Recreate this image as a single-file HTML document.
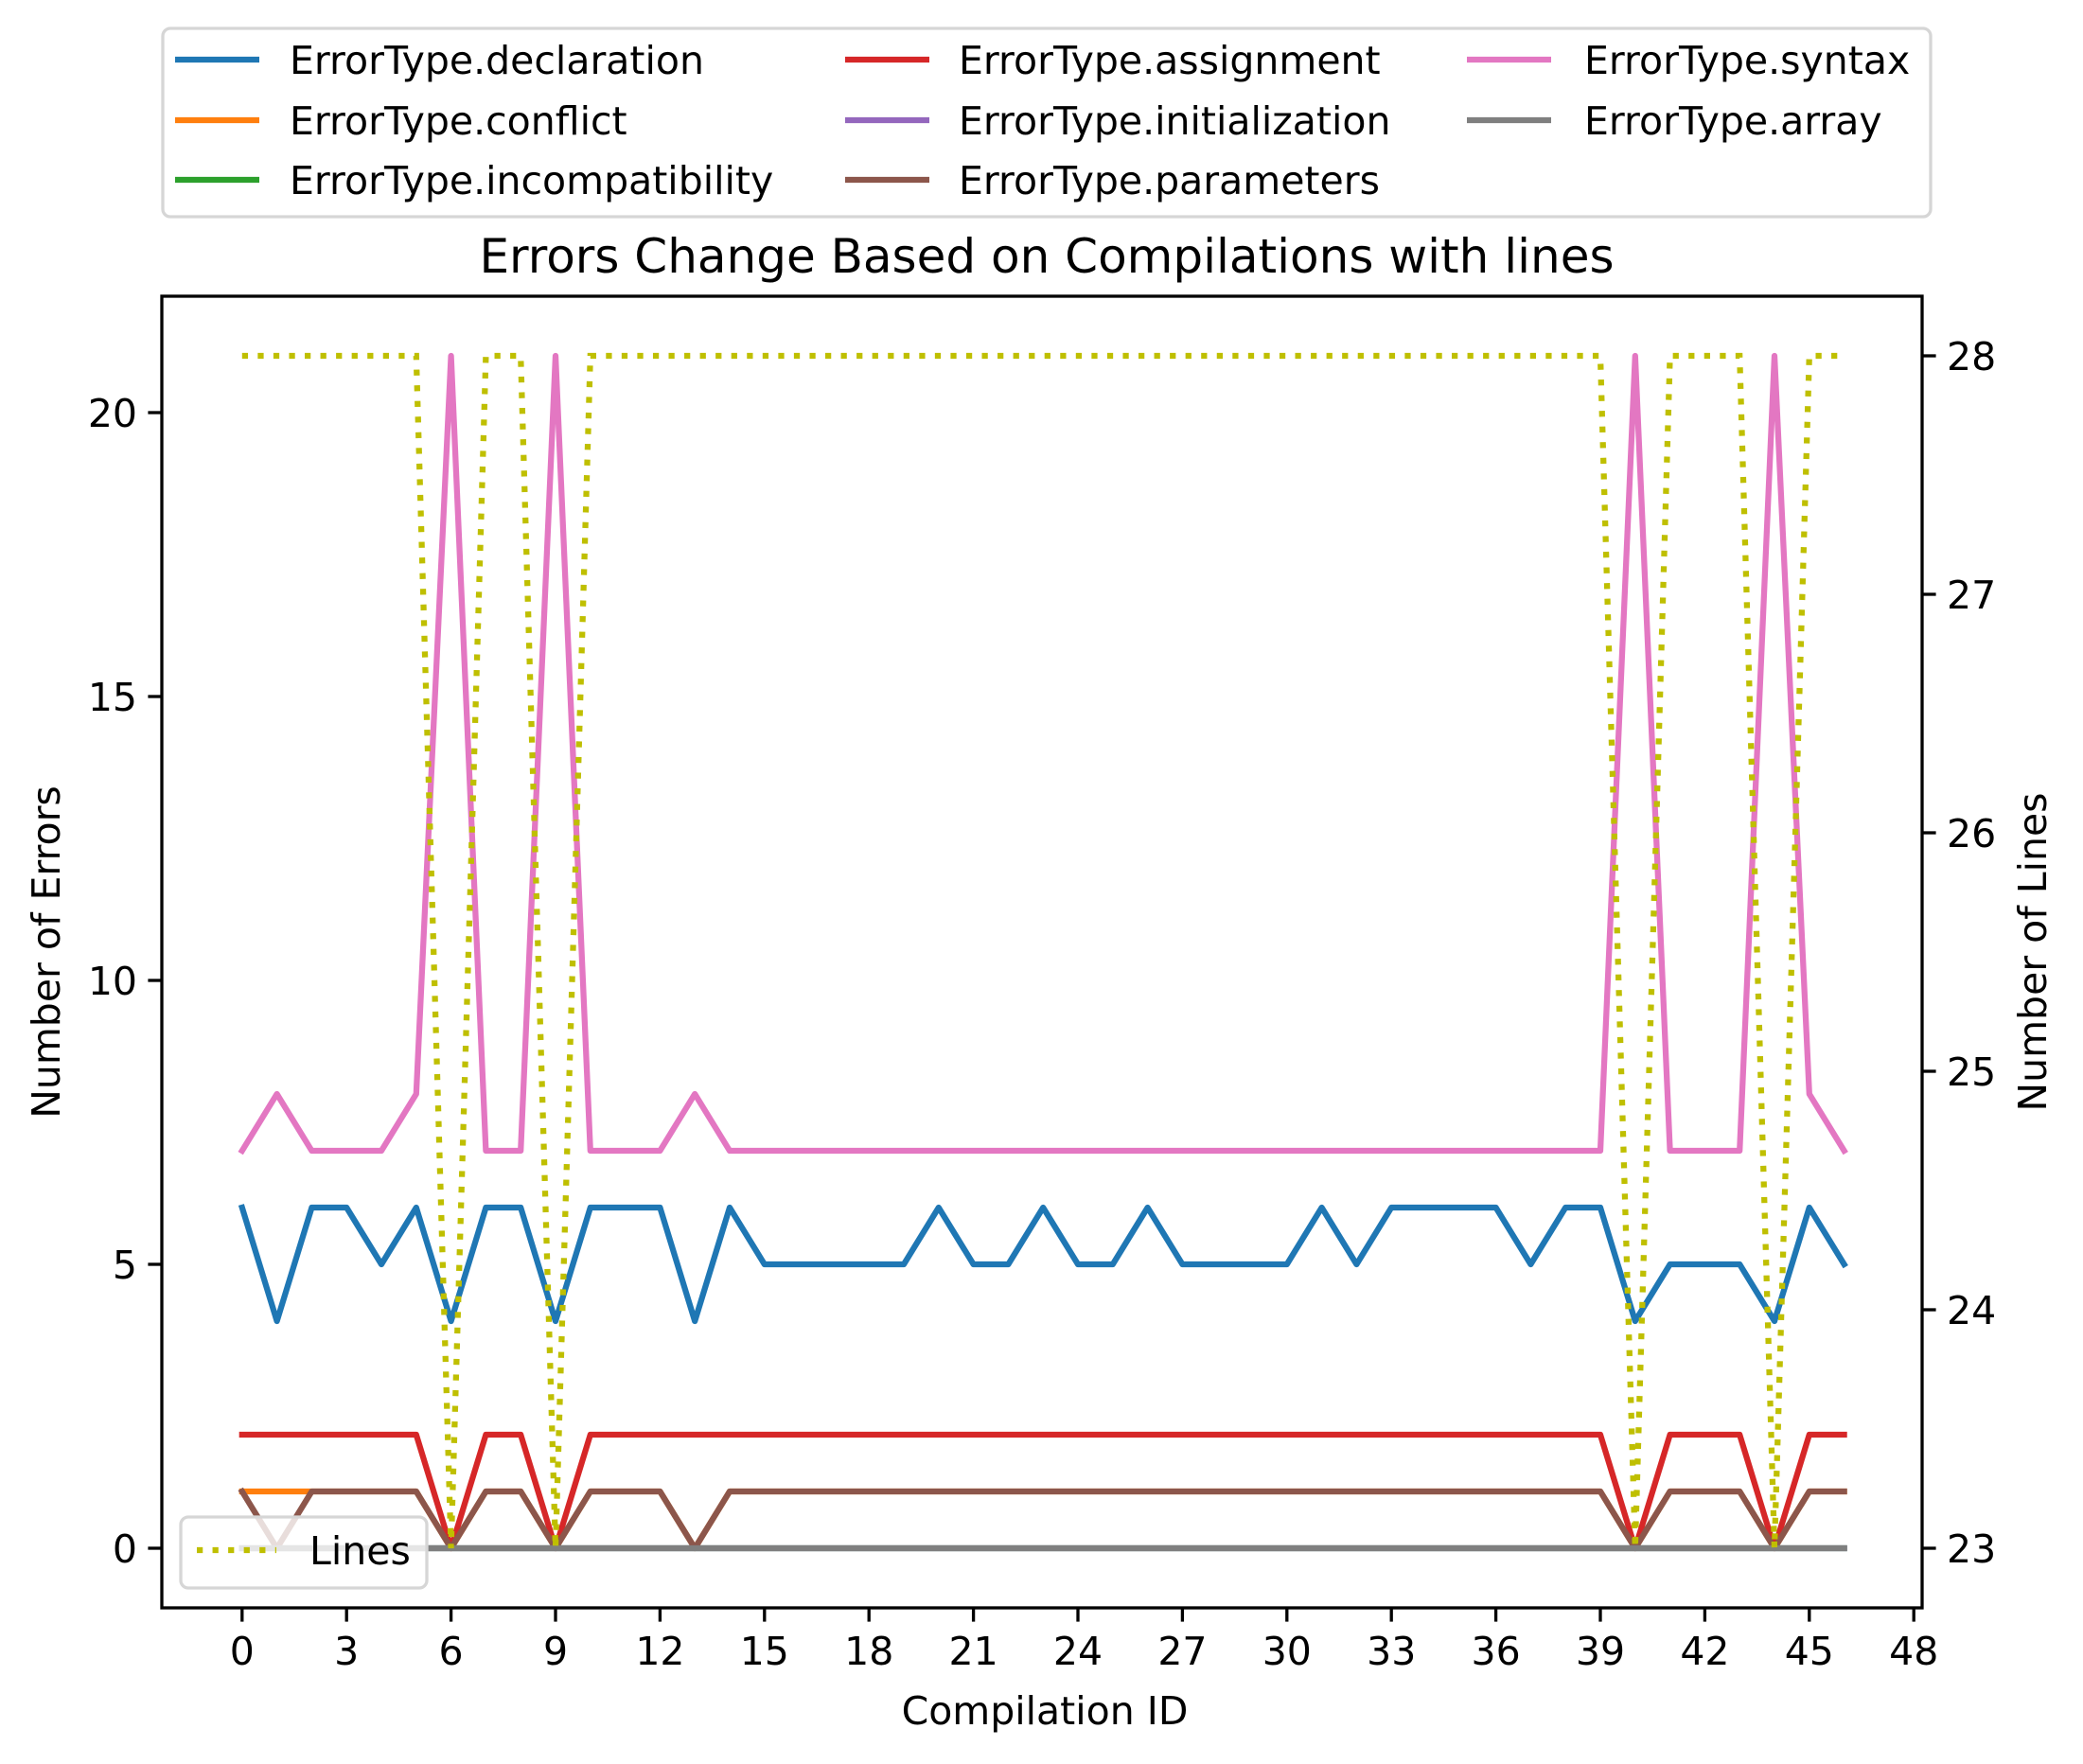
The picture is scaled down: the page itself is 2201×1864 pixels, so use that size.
<!DOCTYPE html>
<html><head><meta charset="utf-8"><style>
body{margin:0;background:#fff}
svg text{font-family:"DejaVu Sans","Liberation Sans",sans-serif;fill:#000}
</style></head><body>
<svg id="chart" width="2201" height="1859" viewBox="0 0 2201 1859" xmlns="http://www.w3.org/2000/svg">
<rect width="2201" height="1859" fill="#fff"/>
<g id="plot"></g>
</svg>
<script>
const compilationIds = Array.from({length:47},(_,i)=>i);
const declaration = [6,4,6,6,5,6,4,6,6,4,6,6,6,4,6,5,5,5,5,5,6,5,5,6,5,5,6,5,5,5,5,6,5,6,6,6,6,5,6,6,4,5,5,5,4,6,5];
const conflict = [1,1,1,1,1,1,0,1,1,0,1,1,1,0,1,1,1,1,1,1,1,1,1,1,1,1,1,1,1,1,1,1,1,1,1,1,1,1,1,1,0,1,1,1,0,1,1];
const incompatibility = new Array(47).fill(0);
const assignment = [2,2,2,2,2,2,0,2,2,0,2,2,2,2,2,2,2,2,2,2,2,2,2,2,2,2,2,2,2,2,2,2,2,2,2,2,2,2,2,2,0,2,2,2,0,2,2];
const initialization = new Array(47).fill(0);
const parameters = [1,0,1,1,1,1,0,1,1,0,1,1,1,0,1,1,1,1,1,1,1,1,1,1,1,1,1,1,1,1,1,1,1,1,1,1,1,1,1,1,0,1,1,1,0,1,1];
const syntax = [7,8,7,7,7,8,21,7,7,21,7,7,7,8,7,7,7,7,7,7,7,7,7,7,7,7,7,7,7,7,7,7,7,7,7,7,7,7,7,7,21,7,7,7,21,8,7];
const arrayErr = new Array(47).fill(0);
const linesCount = [28,28,28,28,28,28,23,28,28,23,28,28,28,28,28,28,28,28,28,28,28,28,28,28,28,28,28,28,28,28,28,28,28,28,28,28,28,28,28,28,23,28,28,28,23,28,28];
const xTicks = [0,3,6,9,12,15,18,21,24,27,30,33,36,39,42,45,48];
const yTicks = [0,5,10,15,20];
const y2Ticks = [23,24,25,26,27,28];

const L=171,R=2031,T=313,B=1699;
const xs=v=>255.8+v*36.8;
const ys=v=>B-(v+1.05)*(B-T)/23.1;
const y2s=v=>B-(v-22.75)*(B-T)/5.5;
const NS='http://www.w3.org/2000/svg';
const plot=document.getElementById('plot');
function mk(tag,attrs,parent){const e=document.createElementNS(NS,tag);for(const k in attrs)e.setAttribute(k,attrs[k]);(parent||plot).appendChild(e);return e;}

const series=[
 ['declaration',declaration,'#1f77b4'],['conflict',conflict,'#ff7f0e'],['incompatibility',incompatibility,'#2ca02c'],
 ['assignment',assignment,'#d62728'],['initialization',initialization,'#9467bd'],['parameters',parameters,'#8c564b'],
 ['syntax',syntax,'#e377c2'],['array',arrayErr,'#7f7f7f']];
series.forEach(s=>{
 const p=mk('polyline',{points:s[1].map((v,i)=>xs(compilationIds[i])+','+ys(v)).join(' '),fill:'none',stroke:s[2],'stroke-width':6.25,'stroke-linejoin':'round','stroke-linecap':'square'});
 
 
});
const ll=mk('polyline',{points:linesCount.map((v,i)=>xs(compilationIds[i])+','+y2s(v)).join(' '),fill:'none',stroke:'#bfbf00','stroke-width':6.25,'stroke-dasharray':'6.25 10.3'});



const sp=mk('rect',{x:L,y:T,width:R-L,height:B-T,fill:'none',stroke:'#000','stroke-width':3.3});



xTicks.forEach(v=>{
 const t=mk('line',{x1:xs(v),x2:xs(v),y1:B,y2:B+14.6,stroke:'#000','stroke-width':3.3});
 
 
 const l=mk('text',{x:xs(v),y:B+60,'text-anchor':'middle','font-size':41});l.textContent=v;
 
 
});
yTicks.forEach(v=>{
 const t=mk('line',{x1:L,x2:L-14.6,y1:ys(v),y2:ys(v),stroke:'#000','stroke-width':3.3});
 
 
 const l=mk('text',{x:L-26,y:ys(v)+15,'text-anchor':'end','font-size':41});l.textContent=v;
 
 
});
y2Ticks.forEach(v=>{
 const t=mk('line',{x1:R,x2:R+14.6,y1:y2s(v),y2:y2s(v),stroke:'#000','stroke-width':3.3});
 
 
 const l=mk('text',{x:R+26,y:y2s(v)+15,'text-anchor':'start','font-size':41});l.textContent=v;
 
 
});
let e;
e=mk('text',{x:1106,y:288,'text-anchor':'middle','font-size':50});e.textContent='Errors Change Based on Compilations with lines';


e=mk('text',{x:1104,y:1822,'text-anchor':'middle','font-size':41});e.textContent='Compilation ID';


e=mk('text',{x:0,y:0,'text-anchor':'middle','font-size':41,transform:'translate(63,1006) rotate(-90)'});e.textContent='Number of Errors';


e=mk('text',{x:0,y:0,'text-anchor':'middle','font-size':41,transform:'translate(2162,1006) rotate(-90)'});e.textContent='Number of Lines';



const lg=mk('g',{});


mk('rect',{x:172,y:30,width:1868,height:199,rx:8,fill:'#fff','fill-opacity':0.8,stroke:'#d6d6d6','stroke-width':3.3},lg);
const cols=[[185,306],[893,1013],[1550,1674]];
const rows=[63,127,190];
series.forEach((s,i)=>{
 const c=cols[Math.floor(i/3)],r=rows[i%3];
 const g=mk('g',{},lg);
 
 
 mk('line',{x1:c[0],x2:c[0]+89,y1:r,y2:r,stroke:s[2],'stroke-width':6.25},g);
 const t=mk('text',{x:c[1],y:r+15,'font-size':41},g);t.textContent='ErrorType.'+s[0];
});
const lg2=mk('g',{});


mk('rect',{x:191,y:1603,width:260,height:75,rx:8,fill:'#fff','fill-opacity':0.8,stroke:'#d6d6d6','stroke-width':3.3},lg2);
mk('line',{x1:208,x2:292,y1:1638,y2:1638,stroke:'#bfbf00','stroke-width':6.25,'stroke-dasharray':'6.25 10.3'},lg2);
e=mk('text',{x:327,y:1653,'font-size':41},lg2);e.textContent='Lines';
</script>
</body></html>
